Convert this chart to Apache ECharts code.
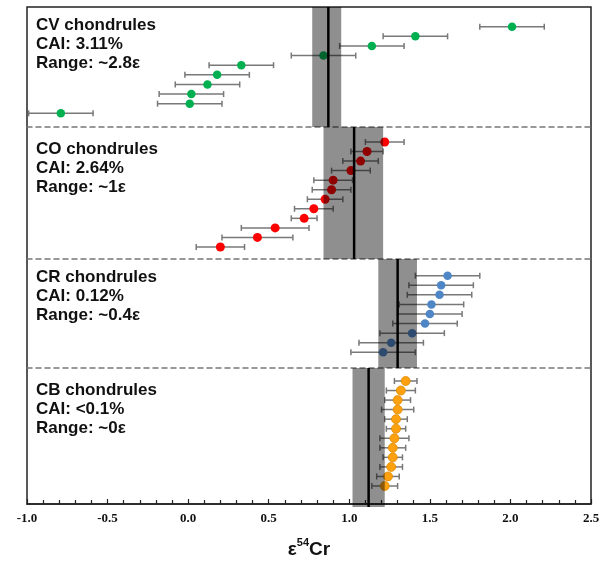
<!DOCTYPE html>
<html>
<head>
<meta charset="utf-8">
<script src="https://cdn.jsdelivr.net/npm/echarts@6/dist/echarts.min.js"></script>
<style>
html,body{margin:0;padding:0;background:#fff;}
#main{width:605px;height:564px;}
</style>
</head>
<body>
<div id="main"></div>
<script>
// e54Cr per chondrule, top to bottom in each panel, with 2SE
var cvX = [2.01, 1.41, 1.14, 0.84, 0.33, 0.18, 0.12, 0.02, 0.01, -0.79];
var cvErr = [0.20, 0.20, 0.20, 0.20, 0.20, 0.20, 0.20, 0.20, 0.20, 0.20];
var coX = [1.22, 1.11, 1.07, 1.01, 0.90, 0.89, 0.85, 0.78, 0.72, 0.54, 0.43, 0.20];
var coErr = [0.12, 0.10, 0.11, 0.12, 0.12, 0.12, 0.11, 0.12, 0.08, 0.21, 0.22, 0.15];
var crX = [1.61, 1.57, 1.56, 1.51, 1.50, 1.47, 1.39, 1.26, 1.21];
var crErr = [0.20, 0.20, 0.20, 0.20, 0.20, 0.20, 0.20, 0.20, 0.20];
var cbX = [1.35, 1.32, 1.30, 1.30, 1.29, 1.29, 1.28, 1.27, 1.27, 1.26, 1.24, 1.22];
var cbErr = [0.07, 0.09, 0.08, 0.10, 0.07, 0.06, 0.09, 0.08, 0.06, 0.07, 0.07, 0.08];

// CAI-corrected mean and its uncertainty band
var meanVals = [0.87, 1.03, 1.30, 1.12];
var bandLow = [0.77, 0.84, 1.18, 1.02];
var bandHigh = [0.95, 1.21, 1.42, 1.22];

var groupNames = ['CV chondrules', 'CO chondrules', 'CR chondrules', 'CB chondrules'];
var caiText = ['CAI: 3.11%', 'CAI: 2.64%', 'CAI: 0.12%', 'CAI: <0.1%'];
var rangeText = ['Range: ~2.8ε', 'Range: ~1ε', 'Range: ~0.4ε', 'Range: ~0ε'];
var colors = ['#00b050', '#ff0000', '#4f86c6', '#ffa10f'];
var symSizes = [8.5, 9, 8.5, 9];

var xs = [cvX, coX, crX, cbX];
var errs = [cvErr, coErr, crErr, cbErr];

// panel layout (px)
var panelTop = [7, 127, 259, 368];
var panelH = [120, 132, 109, 139];
var yMin = [-2.05, -1.57, -1.74, -1.36];
var yPad = [1.42, 1.26, 1.64, 2.2];
var textOff = [8.5, 12.5, 8.5, 12.5];

function errItem(params, api) {
	var x = api.value(0), y = api.value(1), e = api.value(2);
	var p1 = api.coord([x - e, y]);
	var p2 = api.coord([x + e, y]);
	var st = {stroke: '#787878', lineWidth: 1.5};
	return {type: 'group', children: [
		{type: 'line', shape: {x1: p1[0], y1: p1[1], x2: p2[0], y2: p2[1]}, style: st},
		{type: 'line', shape: {x1: p1[0], y1: p1[1] - 3, x2: p1[0], y2: p1[1] + 3}, style: st},
		{type: 'line', shape: {x1: p2[0], y1: p2[1] - 3, x2: p2[0], y2: p2[1] + 3}, style: st}
	]};
}

function bandItem(params, api) {
	var cs = params.coordSys;
	var lo = api.coord([api.value(0), 0])[0];
	var hi = api.coord([api.value(1), 0])[0];
	var m = api.coord([api.value(2), 0])[0];
	return {type: 'group', children: [
		{type: 'rect', shape: {x: lo, y: cs.y, width: hi - lo, height: cs.height},
			style: {fill: 'rgba(0,0,0,0.44)'}},
		{type: 'line', shape: {x1: m, y1: cs.y, x2: m, y2: cs.y + cs.height},
			style: {stroke: '#000', lineWidth: 2.5}}
	]};
}

var grids = [], xAxes = [], yAxes = [], series = [], titles = [];
for (var g = 0; g < 4; g++) {
	grids.push({left: 27, right: 14, top: panelTop[g], height: panelH[g]});
	xAxes.push({
		gridIndex: g, type: 'value', min: -1, max: 2.5, position: 'bottom',
		axisLine: {show: g < 3, onZero: false, lineStyle: {color: '#777', width: 1.5, type: [5, 4]}},
		axisTick: {show: false}, axisLabel: {show: false}, splitLine: {show: false}
	});
	yAxes.push({
		gridIndex: g, type: 'value', inverse: true,
		min: yMin[g], max: xs[g].length - 1 + yPad[g], show: false
	});
	var pts = [], bars = [];
	for (var i = 0; i < xs[g].length; i++) {
		pts.push([xs[g][i], i]);
		bars.push([xs[g][i], i, errs[g][i]]);
	}
	series.push({
		type: 'custom', xAxisIndex: g, yAxisIndex: g, z: 2,
		renderItem: errItem, encode: {x: 0, y: 1}, data: bars, silent: true
	});
	series.push({
		type: 'scatter', xAxisIndex: g, yAxisIndex: g, z: 3,
		symbolSize: symSizes[g], data: pts,
		itemStyle: {color: colors[g], opacity: 1,
			borderColor: g == 3 ? '#e08a00' : colors[g], borderWidth: g == 3 ? 0.8 : 0}
	});
	series.push({
		type: 'custom', xAxisIndex: g, yAxisIndex: g, z: 4,
		renderItem: bandItem, encode: {x: [0, 1, 2]},
		data: [[bandLow[g], bandHigh[g], meanVals[g]]], silent: true
	});
	titles.push({
		left: 36, top: panelTop[g] + textOff[g], padding: 0, z: 10,
		text: groupNames[g] + '\n' + caiText[g] + '\n' + rangeText[g],
		textStyle: {
			fontSize: 17, fontWeight: 'bold', fontFamily: 'Arial, "Liberation Sans", sans-serif',
			lineHeight: 19, color: '#111'
		}
	});
}

// outer frame with the labelled axis
grids.push({left: 27, right: 14, top: 7, height: 500, show: true,
	borderColor: '#222', borderWidth: 1.5, backgroundColor: 'transparent'});
xAxes.push({
	gridIndex: 4, type: 'value', min: -1, max: 2.5, interval: 0.5,
	axisLine: {onZero: false, lineStyle: {color: '#222', width: 1.5}},
	axisTick: {inside: true, length: 5, lineStyle: {color: '#222', width: 1.2}},
	minorTick: {show: true, splitNumber: 5, length: 4, lineStyle: {color: '#222', width: 1.2}},
	splitLine: {show: false},
	axisLabel: {
		margin: 8, color: '#111', fontSize: 13, fontWeight: 'bold',
		fontFamily: '"Liberation Serif", "Times New Roman", serif',
		formatter: function (v) { return v.toFixed(1); }
	},
	name: '{a|ε}{b|54}{a|Cr}', nameLocation: 'middle', nameGap: 33,
	nameTextStyle: {
		rich: {
			a: {fontSize: 19, fontWeight: 'bold', fontFamily: '"Liberation Sans", Arial', color: '#111',
				lineHeight: 22, verticalAlign: 'bottom'},
			b: {fontSize: 11, fontWeight: 'bold', fontFamily: '"Liberation Sans", Arial', color: '#111',
				lineHeight: 22, verticalAlign: 'top'}
		}
	}
});
yAxes.push({gridIndex: 4, type: 'value', min: 0, max: 1, show: false});

var myChart = echarts.init(document.getElementById('main'));
myChart.setOption({
	animation: false,
	title: titles,
	grid: grids,
	xAxis: xAxes,
	yAxis: yAxes,
	series: series
});
</script>
</body>
</html>
